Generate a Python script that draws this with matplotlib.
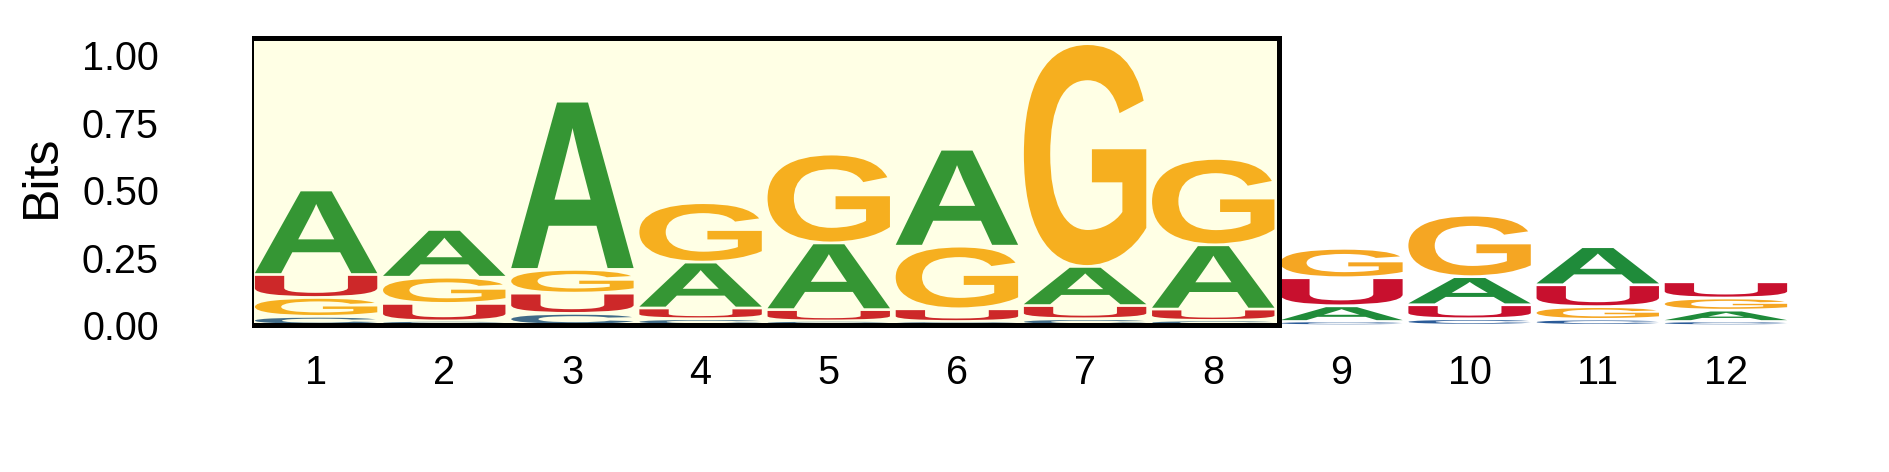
import numpy as np
import matplotlib
matplotlib.use('Agg')
import matplotlib.pyplot as plt
from matplotlib.textpath import TextPath
from matplotlib.patches import PathPatch, Rectangle
from matplotlib.font_manager import FontProperties
from matplotlib.transforms import Affine2D

# information (bits) per letter at each position
positions = np.arange(1, 13)
bits_A = [0.313, 0.177, 0.623, 0.170, 0.247, 0.359, 0.145, 0.238, 0.058, 0.104, 0.141, 0.042]
bits_C = [0.032, 0.015, 0.043, 0.023, 0.015, 0.013, 0.023, 0.017, 0.013, 0.023, 0.021, 0.013]
bits_G = [0.070, 0.097, 0.088, 0.220, 0.329, 0.232, 0.825, 0.320, 0.109, 0.228, 0.047, 0.045]
bits_U = [0.085, 0.065, 0.075, 0.040, 0.042, 0.047, 0.049, 0.042, 0.104, 0.052, 0.081, 0.060]
yticks = [0.0, 0.25, 0.5, 0.75, 1.0]
highlight = (1, 8)

colors = {'A': '#1f8b3a', 'C': '#2b5b98', 'G': '#f5a623', 'U': '#c8102e'}
fp = FontProperties(family='Liberation Sans', weight='bold')

plt.rcParams['font.family'] = ['Liberation Sans', 'DejaVu Sans']

fig = plt.figure(figsize=(18.89, 4.72), dpi=100)
ax = fig.add_axes([0.1334, 0.30, 0.8142, 0.6235])


def draw_letter(ax, ch, x, y0, y1, width, color):
    tp = TextPath((0, 0), ch, size=1, prop=fp)
    bb = tp.get_extents()
    tr = (Affine2D().translate(-bb.x0, -bb.y0)
          .scale(width / bb.width, (y1 - y0) / bb.height)
          .translate(x - width / 2, y0))
    ax.add_patch(PathPatch(tr.transform_path(tp), fc=color, ec='none', lw=0, zorder=2))


table = {'A': bits_A, 'C': bits_C, 'G': bits_G, 'U': bits_U}
for i, p in enumerate(positions):
    col = sorted([(table[k][i], k) for k in table])
    base = 0.0
    for h, k in col:
        pad = min(0.005, 0.2 * h)
        draw_letter(ax, k, p, base + pad, base + h - pad, 0.955, colors[k])
        base += h

# highlighted range
ax.add_patch(Rectangle((highlight[0] - 0.51, 0.0), highlight[1] - highlight[0] + 1.02, 1.063,
                       facecolor=(1, 1, 0, 0.1), edgecolor='black', lw=3.6, zorder=3))

ax.set_xlim(0.5, 12.5)
ax.set_ylim(-0.02, 1.07)
ax.set_xticks(positions)
ax.set_xticklabels([str(p) for p in positions])
ax.set_yticks(yticks)
ax.set_yticklabels(['%.2f' % v for v in yticks])
ax.tick_params(axis='both', length=0, labelsize=28.5)
ax.tick_params(axis='y', pad=67)
ax.tick_params(axis='x', pad=17)
for s in ax.spines.values():
    s.set_visible(False)

fig.text(42 / 1889, 1 - 176.5 / 472, 'Bits', rotation=90, ha='center', va='center', fontsize=36)

fig.savefig('out.png', dpi=100)
